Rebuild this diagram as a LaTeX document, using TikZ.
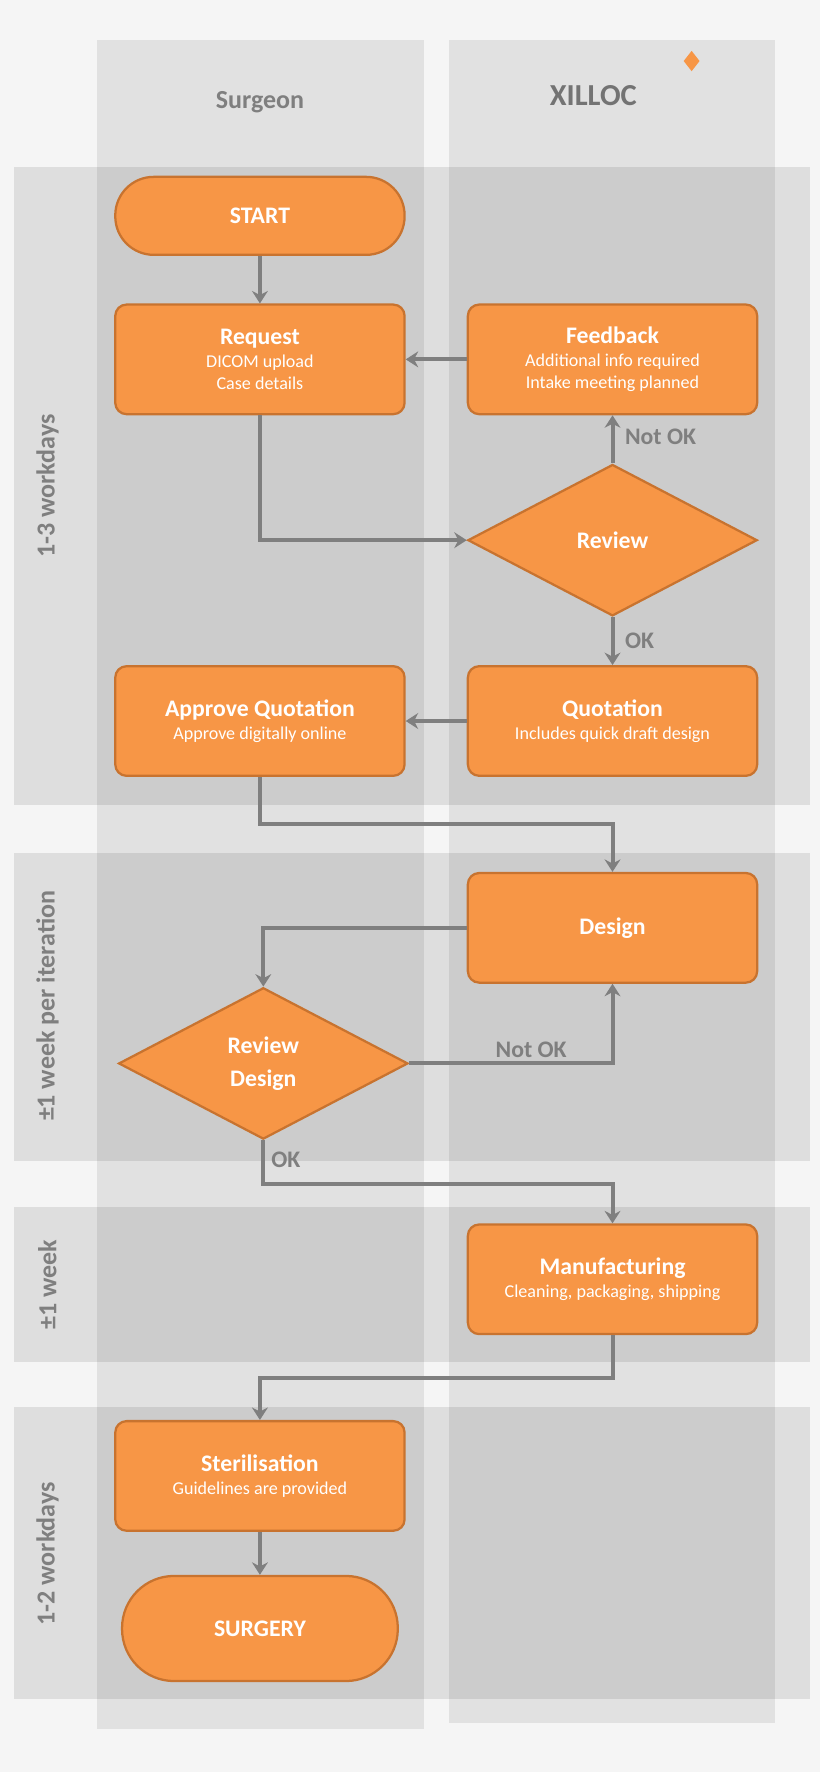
\documentclass[tikz,border=0pt]{standalone}
\usepackage{fontspec}
\setmainfont{Carlito}
\usetikzlibrary{shapes.geometric,arrows.meta}
\definecolor{boxorange}{HTML}{F79646}
\definecolor{boxedge}{HTML}{C8732F}
\definecolor{flowgray}{HTML}{7F7F7F}
\definecolor{lanegray}{HTML}{DCDCDC}
\begin{document}
\begin{tikzpicture}[x=1pt,y=-1pt,
  task/.style={draw=boxedge,line width=2pt,fill=boxorange,rounded corners=10pt,
    minimum width=256pt,minimum height=97pt,align=center,text=white,font=\fontsize{16}{20}\selectfont},
  term/.style={task,rounded corners=34pt,minimum height=69pt},
  check/.style={draw=boxedge,line width=2pt,fill=boxorange,diamond,aspect=1.9,
    minimum width=256pt,minimum height=134pt,inner sep=0pt,align=center,text=white,font=\fontsize{21}{29}\selectfont\bfseries},
  flow/.style={draw=flowgray,line width=3.5pt,-{Stealth[length=11pt,width=14pt]}},
  tag/.style={text=flowgray,font=\fontsize{21}{25}\selectfont\bfseries},
  band/.style={fill=black,fill opacity=0.09},
  lane/.style={fill=lanegray,fill opacity=0.8}]
\newcommand{\hd}[1]{{\fontsize{21}{26}\selectfont\bfseries #1}}
\useasboundingbox[fill=black!4] (0,0) rectangle (726,1568);
% lanes and bands
\fill[lane] (86,35) rectangle (375,1530);
\fill[lane] (397,35) rectangle (686,1525);
\fill[band] (12,148) rectangle (717,712);
\fill[band] (12,755) rectangle (717,1027);
\fill[band] (12,1068) rectangle (717,1205);
\fill[band] (12,1245) rectangle (717,1503);
\node[tag,rotate=90,font=\fontsize{23}{27}\selectfont\bfseries] (w1) at (42,430) {1-3 workdays};
\node[tag,rotate=90,font=\fontsize{23}{27}\selectfont\bfseries] (w2) at (42,890) {±1 week per iteration};
\node[tag,rotate=90,font=\fontsize{23}{27}\selectfont\bfseries] (w3) at (42,1137) {±1 week};
\node[tag,rotate=90,font=\fontsize{23}{27}\selectfont\bfseries] (w4) at (42,1375) {1-2 workdays};
\node[tag,font=\fontsize{23}{27}\selectfont\bfseries] (surgeon) at (230,90) {Surgeon};
\node[text=black!55,font=\fontsize{27}{30}\selectfont\bfseries] (logo) at (525,85) {XILLOC};
\fill[boxorange] (612,45) -- (619,54) -- (612,63) -- (605,54) -- cycle;
% steps
\node[term] (start) at (230,191) {\hd{START}};
\node[task] (request) at (230,318) {\hd{Request}\\DICOM upload\\Case details};
\node[task] (feedback) at (542,318) {\hd{Feedback}\\Additional info required\\Intake meeting planned};
\node[check] (review) at (542,478) {Review};
\node[task] (quote) at (542,638) {\hd{Quotation}\\Includes quick draft design};
\node[task] (approve) at (230,638) {\hd{Approve Quotation}\\Approve digitally online};
\node[task] (design) at (542,821) {\hd{Design}};
\node[check] (revdesign) at (233,941) {Review\\Design};
\node[task] (manuf) at (542,1132) {\hd{Manufacturing}\\Cleaning, packaging, shipping};
\node[task] (steril) at (230,1306) {\hd{Sterilisation}\\Guidelines are provided};
\node[term,minimum width=244pt,minimum height=93pt,rounded corners=46pt] (surgery) at (230,1441) {\hd{SURGERY}};
% connectors
\draw[flow] (start) -- (request);
\draw[flow] (feedback) -- (request);
\draw[flow] (request.south) |- (review.west);
\draw[flow] (review.north) -- node[tag,right=6pt,pos=0.55] {Not OK} (feedback.south);
\draw[flow] (review.south) -- node[tag,right=6pt] {OK} (quote.north);
\draw[flow] (quote) -- (approve);
\draw[flow] (approve.south) -- ++(0,42) -| (design.north);
\draw[flow] (design.west) -| (revdesign.north);
\draw[flow] (revdesign.east) -| node[tag,above,pos=0.3] {Not OK} (design.south);
\draw[flow] (revdesign.south) -- node[tag,right=2pt,pos=0.45] {OK} ++(0,39) -| (manuf.north);
\draw[flow] (manuf.south) -- ++(0,38) -| (steril.north);
\draw[flow] (steril) -- (surgery);
\end{tikzpicture}
\end{document}
